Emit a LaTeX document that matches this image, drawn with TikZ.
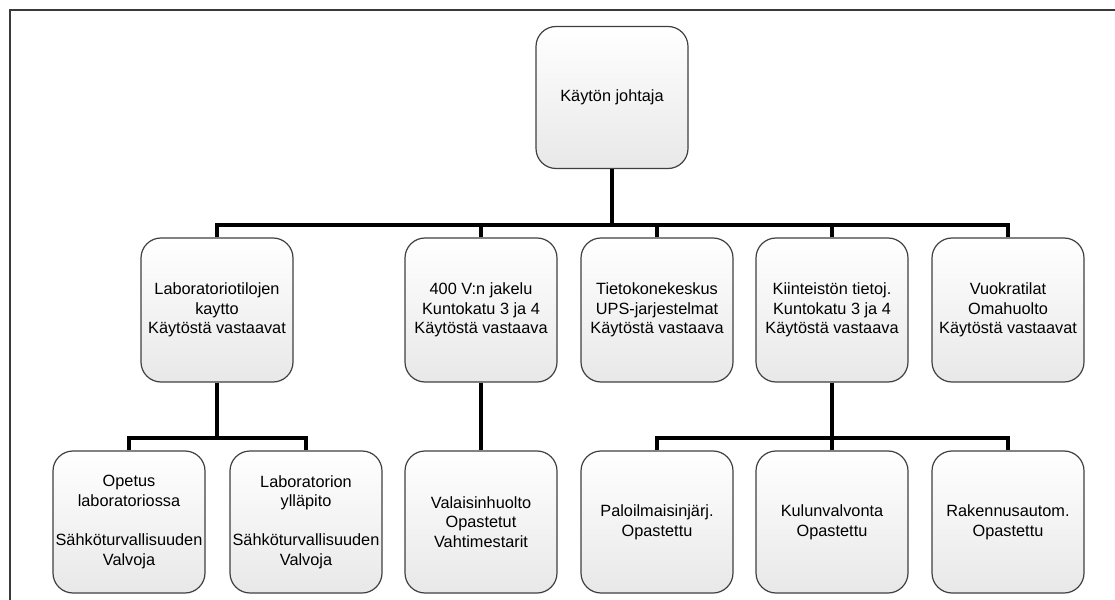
\documentclass[tikz,border=0pt]{standalone}
\usepackage{fontspec}
\setmainfont{Liberation Sans}
\definecolor{boxedge}{HTML}{404040}
\definecolor{boxbottom}{HTML}{E8E8E8}
\definecolor{framegray}{HTML}{3A3A3A}
\tikzset{
  orgbox/.style={draw=boxedge, line width=1.2bp, rounded corners=20bp,
    top color=white, bottom color=boxbottom,
    minimum width=152bp, minimum height=142bp, inner sep=0pt,
    align=center, font=\fontsize{16.3bp}{19.6bp}\selectfont},
  midbox/.style={orgbox, minimum height=144bp},
  conn/.style={draw=black, line width=3.8bp}
}
\begin{document}
\begin{tikzpicture}[x=1bp, y=-1bp]
\useasboundingbox (0,0) rectangle (1115,600);
\fill[white] (0,0) rectangle (1115,600);
% page frame, running off the right and bottom edges
\draw[framegray, line width=1.5bp] (10,10) rectangle (1125,610);

% boxes
\node[orgbox] (top) at (612,97.5) {Käytön johtaja};

\node[midbox] (n1) at (217,310) {Laboratoriotilojen\\kaytto\\Käytöstä vastaavat};
\node[midbox] (n2) at (481,310) {400 V:n jakelu\\Kuntokatu 3 ja 4\\Käytöstä vastaava};
\node[midbox] (n3) at (657,310) {Tietokonekeskus\\UPS-jarjestelmat\\Käytöstä vastaava};
\node[midbox] (n4) at (832,310) {Kiinteistön tietoj.\\ Kuntokatu 3 ja 4\\Käytöstä vastaava};
\node[midbox] (n5) at (1008,310) {Vuokratilat\\Omahuolto\\Käytöstä vastaavat};

\node[orgbox] (c1) at (129,522) {Opetus\\laboratoriossa\\~\\Sähköturvallisuuden\\Valvoja};
\node[orgbox] (c2) at (306,522) {Laboratorion\\ylläpito\\~\\Sähköturvallisuuden\\Valvoja};
\node[orgbox] (c3) at (481,522) {Valaisinhuolto\\Opastetut\\Vahtimestarit};
\node[orgbox] (c4) at (657,522) {Paloilmaisinjärj.\\Opastettu};
\node[orgbox] (c5) at (832,522) {Kulunvalvonta\\Opastettu};
\node[orgbox] (c6) at (1008,522) {Rakennusautom.\\Opastettu};

% junction points on the buses
\coordinate (b1) at (612,225);
\coordinate (b2) at (217,438);
\coordinate (b3) at (832,438);

% main bus
\draw[conn] (top.south) -- (b1);
\draw[conn] (n1.north) |- (b1) -| (n5.north);
\draw[conn] (n2.north) -- (n2.north |- b1);
\draw[conn] (n3.north) -- (n3.north |- b1);
\draw[conn] (n4.north) -- (n4.north |- b1);

% laboratory branch
\draw[conn] (n1.south) -- (b2);
\draw[conn] (c1.north) |- (b2) -| (c2.north);

% 400 V branch
\draw[conn] (n2.south) -- (c3.north);

% property systems branch
\draw[conn] (n4.south) -- (b3);
\draw[conn] (c4.north) |- (b3) -| (c6.north);
\draw[conn] (c5.north) -- (c5.north |- b3);
\end{tikzpicture}
\end{document}
